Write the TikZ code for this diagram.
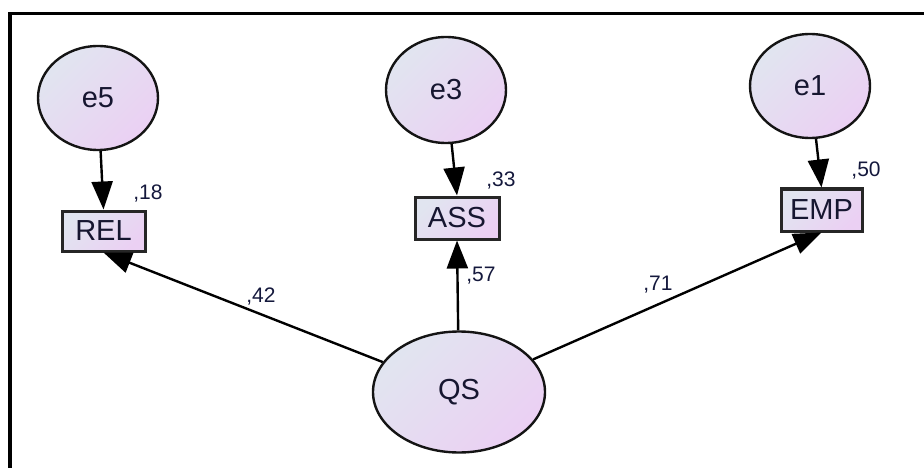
\documentclass[tikz,border=0pt]{standalone}
\usepackage{fontspec}
\setmainfont{Liberation Sans}
\usetikzlibrary{arrows.meta,shapes.geometric}
\definecolor{fillA}{RGB}{225,229,240}
\definecolor{fillB}{RGB}{235,208,243}
\definecolor{txt}{RGB}{22,22,48}
\definecolor{numc}{RGB}{20,24,60}
\begin{document}
\begin{tikzpicture}[x=1pt,y=-1pt,
  latent/.style={ellipse, draw=black!92, line width=2.4pt, top color=fillA, bottom color=fillB, shading angle=45,
    inner sep=0pt, text=txt, font=\fontsize{29}{32}\selectfont},
  obsbox/.style={rectangle, draw=black!85, line width=3pt, top color=fillA, bottom color=fillB, shading angle=45,
    inner sep=0pt, minimum width=83pt, minimum height=40pt, text=txt, font=\fontsize{29}{32}\selectfont},
  conn/.style={draw=black, line width=2.4pt, -{Triangle[length=28pt,width=21pt]}},
  numlab/.style={anchor=base, inner sep=0pt, text=numc, font=\fontsize{21}{24}\selectfont}
]
\useasboundingbox (0,0) rectangle (924,468);
% frame
\draw[line width=3.5pt, line join=miter] (10,490) -- (10,13.5) -- (950,13.5);
% nodes
\node[latent, minimum width=120pt, minimum height=104pt] (e5) at (98,98) {e5};
\node[latent, minimum width=120pt, minimum height=106pt] (e3) at (446,90) {e3};
\node[latent, minimum width=120pt, minimum height=104pt] (e1) at (810,86) {e1};
\node[obsbox] (rel) at (103.5,231) {REL};
\node[obsbox, minimum width=84pt, minimum height=42pt] (ass) at (457,218) {ASS};
\node[obsbox, minimum width=81pt, minimum height=42pt] (emp) at (821.5,210) {EMP};
\node[latent, minimum width=172pt, minimum height=121pt] (qs) at (459,392) {QS};
% connectors
\draw[conn] (e5) -- (rel.north);
\draw[conn] (e3) -- (ass.north);
\draw[conn] (e1) -- (emp.north);
\draw[conn] (qs) -- (rel.south);
\draw[conn] (qs) -- (ass.south);
\draw[conn] (qs) -- (emp.south);
% labels
\node[numlab] (l18) at (148,199) {,18};
\node[numlab] (l33) at (501,186) {,33};
\node[numlab] (l50) at (866,177) {,50};
\node[numlab] (l57) at (481,281) {,57};
\node[numlab] (l42) at (261,302) {,42};
\node[numlab] (l71) at (658,290) {,71};
\end{tikzpicture}
\end{document}
